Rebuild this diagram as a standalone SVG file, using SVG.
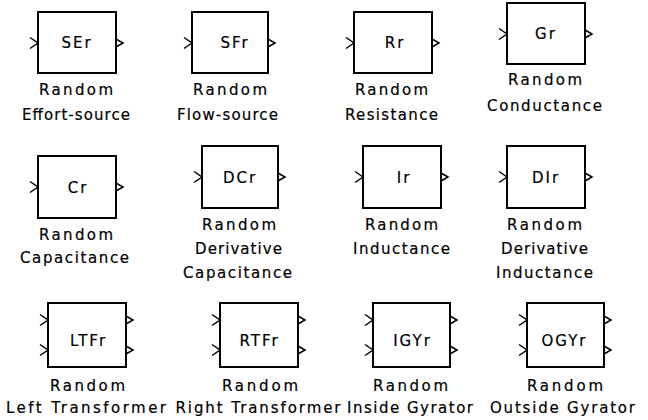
<svg xmlns="http://www.w3.org/2000/svg" width="648" height="420" viewBox="0 0 648 420">
<style>
.b{fill:#fff;stroke:#000;stroke-width:2}
.p{fill:none;stroke:#000;stroke-width:1.5}
.t{font-family:"DejaVu Sans","Liberation Sans",sans-serif;font-size:15px;fill:#000;stroke:#000;stroke-width:0.2;text-anchor:middle}
.n{font-family:"DejaVu Sans","Liberation Sans",sans-serif;font-size:15px;fill:#000;stroke:#000;stroke-width:0.2;text-anchor:middle;letter-spacing:2px}
</style>
<rect width="648" height="420" fill="#fff"/>
<g id="connectors"/>
<g id="SEr">
<rect class="b" x="38" y="12" width="78" height="61"/>
<path class="p" d="M30,37.5 L38,43 L30,48.5"/>
<path class="p" d="M116,39 L123,43 L116,47"/>
<text class="n" x="77" y="47.5">SEr</text>
<text class="t" x="76" y="95" textLength="74" lengthAdjust="spacing">Random</text>
<text class="t" x="76" y="120" textLength="108" lengthAdjust="spacing">Effort-source</text>
</g>
<g id="SFr">
<rect class="b" x="192" y="12" width="76" height="61"/>
<path class="p" d="M184,37.5 L192,43 L184,48.5"/>
<path class="p" d="M268,39 L275,43 L268,47"/>
<text class="n" x="235" y="47.5">SFr</text>
<text class="t" x="230" y="95" textLength="74" lengthAdjust="spacing">Random</text>
<text class="t" x="227.5" y="120" textLength="101" lengthAdjust="spacing">Flow-source</text>
</g>
<g id="Rr">
<rect class="b" x="354" y="12" width="78" height="61"/>
<path class="p" d="M346,37.5 L354,43 L346,48.5"/>
<path class="p" d="M432,39 L439,43 L432,47"/>
<text class="n" x="395" y="47.5">Rr</text>
<text class="t" x="391.5" y="95" textLength="73" lengthAdjust="spacing">Random</text>
<text class="t" x="391.5" y="120" textLength="93" lengthAdjust="spacing">Resistance</text>
</g>
<g id="Gr">
<rect class="b" x="507" y="3" width="78" height="61"/>
<path class="p" d="M499,28.5 L507,34 L499,39.5"/>
<path class="p" d="M585,30 L592,34 L585,38"/>
<text class="n" x="546" y="38.5">Gr</text>
<text class="t" x="545" y="85" textLength="74" lengthAdjust="spacing">Random</text>
<text class="t" x="544.5" y="111" textLength="115" lengthAdjust="spacing">Conductance</text>
</g>
<g id="Cr">
<rect class="b" x="38" y="156" width="78" height="62"/>
<path class="p" d="M30,181.5 L38,187 L30,192.5"/>
<path class="p" d="M116,183 L123,187 L116,191"/>
<text class="n" x="78" y="192.5">Cr</text>
<text class="t" x="76" y="240" textLength="74" lengthAdjust="spacing">Random</text>
<text class="t" x="74.5" y="263" textLength="109" lengthAdjust="spacing">Capacitance</text>
</g>
<g id="DCr">
<rect class="b" x="202" y="146" width="76" height="62"/>
<path class="p" d="M194,171.5 L202,177 L194,182.5"/>
<path class="p" d="M278,173 L285,177 L278,181"/>
<text class="n" x="240" y="182.5">DCr</text>
<text class="t" x="239" y="230" textLength="74" lengthAdjust="spacing">Random</text>
<text class="t" x="238.5" y="254" textLength="87" lengthAdjust="spacing">Derivative</text>
<text class="t" x="237.5" y="278" textLength="109" lengthAdjust="spacing">Capacitance</text>
</g>
<g id="Ir">
<rect class="b" x="363" y="146" width="78" height="62"/>
<path class="p" d="M355,171.5 L363,177 L355,182.5"/>
<path class="p" d="M441,173 L448,177 L441,181"/>
<text class="n" x="404" y="182.5">Ir</text>
<text class="t" x="401.5" y="230" textLength="73" lengthAdjust="spacing">Random</text>
<text class="t" x="401.5" y="254" textLength="97" lengthAdjust="spacing">Inductance</text>
</g>
<g id="DIr">
<rect class="b" x="507" y="146" width="78" height="62"/>
<path class="p" d="M499,171.5 L507,177 L499,182.5"/>
<path class="p" d="M585,173 L592,177 L585,181"/>
<text class="n" x="546" y="182.5">DIr</text>
<text class="t" x="544.5" y="230" textLength="75" lengthAdjust="spacing">Random</text>
<text class="t" x="544.5" y="254" textLength="87" lengthAdjust="spacing">Derivative</text>
<text class="t" x="544.5" y="278" textLength="97" lengthAdjust="spacing">Inductance</text>
</g>
<g id="LTFr">
<rect class="b" x="48" y="303" width="78" height="64"/>
<path class="p" d="M40,314.5 L48,320 L40,325.5"/>
<path class="p" d="M40,344.5 L48,350 L40,355.5"/>
<path class="p" d="M126,316 L133,320 L126,324"/>
<path class="p" d="M126,346 L133,350 L126,354"/>
<text class="n" x="88.5" y="346">LTFr</text>
<text class="t" x="87.5" y="391" textLength="75" lengthAdjust="spacing">Random</text>
<text class="t" x="86" y="413" textLength="160" lengthAdjust="spacing">Left Transformer</text>
</g>
<g id="RTFr">
<rect class="b" x="220" y="303" width="78" height="64"/>
<path class="p" d="M212,314.5 L220,320 L212,325.5"/>
<path class="p" d="M212,344.5 L220,350 L212,355.5"/>
<path class="p" d="M298,316 L305,320 L298,324"/>
<path class="p" d="M298,346 L305,350 L298,354"/>
<text class="n" x="259.5" y="346">RTFr</text>
<text class="t" x="260" y="391" textLength="76" lengthAdjust="spacing">Random</text>
<text class="t" x="258" y="413" textLength="165" lengthAdjust="spacing">Right Transformer</text>
</g>
<g id="IGYr">
<rect class="b" x="373" y="303" width="77" height="64"/>
<path class="p" d="M365,314.5 L373,320 L365,325.5"/>
<path class="p" d="M365,344.5 L373,350 L365,355.5"/>
<path class="p" d="M450,316 L457,320 L450,324"/>
<path class="p" d="M450,346 L457,350 L450,354"/>
<text class="n" x="412.5" y="346">IGYr</text>
<text class="t" x="410.5" y="391" textLength="75" lengthAdjust="spacing">Random</text>
<text class="t" x="410" y="413" textLength="126" lengthAdjust="spacing">Inside Gyrator</text>
</g>
<g id="OGYr">
<rect class="b" x="527" y="303" width="77" height="64"/>
<path class="p" d="M519,314.5 L527,320 L519,325.5"/>
<path class="p" d="M519,344.5 L527,350 L519,355.5"/>
<path class="p" d="M604,316 L611,320 L604,324"/>
<path class="p" d="M604,346 L611,350 L604,354"/>
<text class="n" x="564.5" y="346">OGYr</text>
<text class="t" x="565" y="391" textLength="76" lengthAdjust="spacing">Random</text>
<text class="t" x="562.5" y="413" textLength="145" lengthAdjust="spacing">Outside Gyrator</text>
</g>
</svg>
